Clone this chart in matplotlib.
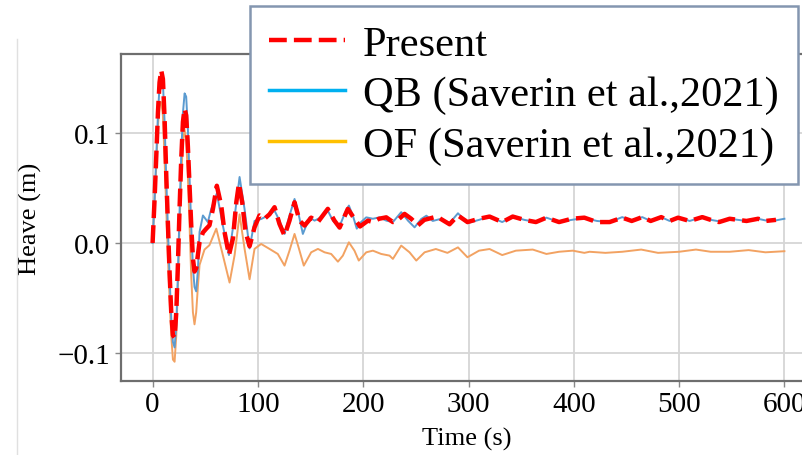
import matplotlib
matplotlib.use("Agg")
import matplotlib.pyplot as plt
from matplotlib.lines import Line2D

plt.rcParams['font.family'] = ['Liberation Serif', 'DejaVu Serif']

# Present (red dashed)
t_present = [0, 1.9, 3.5, 5.1, 6.6, 8.2, 9.8, 11.4, 13, 14.6, 16.1, 17.7, 19.3, 20.9, 22.5, 24,
             25.6, 27.2, 28.8, 30.4, 31.9, 33.5, 35.1, 36.7, 38.3, 39.8, 41.4, 43, 44.6, 47.8,
             51, 54, 57.3, 61, 65.2, 68.3, 72.5, 76.3, 79.5, 82, 85.1, 88.3, 92.1, 96.8, 101.5,
             106.3, 111, 115.8, 120.5, 125.3, 130, 134.8, 139.5, 144.3, 150.6, 157, 166.4,
             172.7, 177.6, 185.4, 191.7, 197, 204.5, 209.2, 215, 221.9, 228.2, 233, 239.3,
             245.6, 252, 258, 270, 282, 290, 299, 310, 320, 332, 342, 353,
             364, 374, 386, 398, 410, 422, 434, 446, 455, 465, 473, 483, 491, 499, 510, 522,
             530, 538, 548, 556, 564, 575, 582, 592]
h_present = [0.0, 0.040, 0.079, 0.119, 0.146, 0.157, 0.149, 0.113, 0.061, 0.016, -0.026, -0.063,
             -0.084, -0.086, -0.063, -0.021, 0.031, 0.076, 0.110, 0.122, 0.116, 0.088, 0.052,
             0.016, -0.014, -0.026, -0.023, -0.011, 0.001, 0.0095, 0.013, 0.016, 0.031, 0.052,
             0.034, 0.010, -0.011, 0.004, 0.037, 0.054, 0.037, 0.010, -0.003, 0.0142, 0.025,
             0.022, 0.026, 0.0325, 0.0173, 0.0067, 0.0203, 0.037, 0.0203, 0.0158, 0.023, 0.019,
             0.031, 0.0203, 0.014, 0.031, 0.022, 0.015, 0.0203, 0.019, 0.022, 0.0233, 0.019,
             0.021, 0.0264, 0.022, 0.016, 0.021, 0.024, 0.017, 0.025,
             0.019, 0.022, 0.024, 0.019, 0.024, 0.021, 0.019, 0.023, 0.019, 0.022, 0.023, 0.019,
             0.019, 0.023, 0.020, 0.0235, 0.020, 0.0235, 0.020, 0.023, 0.020, 0.0235, 0.021,
             0.019, 0.022, 0.021, 0.020, 0.022, 0.020, 0.021]

# QB (Saverin et al., 2021)
t_qb = [0, 1.9, 3.5, 5.1, 6.6, 8.2, 9.8, 11.4, 13, 14.6, 16.1, 17.7, 19.3, 20.9, 22.5, 24, 25.6,
        27.2, 28.8, 30.4, 31.9, 33.5, 35.1, 36.7, 38.3, 39.8, 41.4, 43, 44.6, 47.8, 52.5, 55.7,
        61, 66.7, 72.5, 77.9, 82.6, 87.3, 92.1, 96.8, 103.1, 109.5, 115.8, 120.5, 125.3, 130,
        134.8, 138.6, 142.7, 149, 153.8, 160.1, 166.4, 171.2, 177.5, 182.3, 186.4, 190.2,
        193.9, 198, 202.9, 209.2, 215.5, 221.9, 228.2, 236.1, 242.5, 248.8, 255.1, 260,
        266, 274, 282, 290, 299, 310, 320, 332, 342, 353, 364, 374,
        386, 398, 410, 422, 434, 446, 455, 465, 473, 483, 491, 499, 510, 522, 530, 538, 548,
        556, 563.6, 575, 582, 589, 600]
h_qb = [0.0, 0.040, 0.079, 0.117, 0.143, 0.153, 0.146, 0.11, 0.058, 0.012, -0.030, -0.068,
        -0.090, -0.095, -0.075, -0.030, 0.028, 0.080, 0.118, 0.136, 0.133, 0.104, 0.060, 0.015,
        -0.022, -0.040, -0.044, -0.025, 0.010, 0.025, 0.019, 0.031, 0.045, 0.016, -0.011,
        0.024, 0.060, 0.031, -0.005, 0.02, 0.0218, 0.0248, 0.0294, 0.0203, 0.0082, 0.0248,
        0.040, 0.0264, 0.0082, 0.0233, 0.0203, 0.0233, 0.0294, 0.0203, 0.015, 0.0264, 0.034,
        0.0248, 0.013, 0.019, 0.0233, 0.022, 0.0233, 0.0203, 0.019, 0.028, 0.0203, 0.0142,
        0.0218, 0.0248, 0.02, 0.022, 0.018,
        0.027, 0.018, 0.021, 0.024, 0.019, 0.024, 0.021, 0.019, 0.023, 0.019, 0.021, 0.0227,
        0.02, 0.019, 0.0235, 0.020, 0.0235, 0.020, 0.0235, 0.020, 0.0235, 0.020, 0.0235,
        0.021, 0.0197, 0.022, 0.021, 0.020, 0.022, 0.0205, 0.020, 0.022]

# OF (Saverin et al., 2021)
t_of = [0, 1.9, 3.5, 5.1, 6.6, 8.2, 9.8, 11.4, 13, 14.6, 16.1, 17.7, 19.3, 20.9, 22.5, 24, 25.6,
        27.2, 28.8, 30.4, 31.9, 33.5, 35.1, 36.7, 38.3, 39.8, 41.4, 43, 44.6, 49.3, 54, 60.5,
        66.7, 73.1, 77.9, 82.6, 87.3, 92.1, 96.8, 103.1, 111, 118.9, 125.3, 130, 134.8, 138.6,
        143.6, 150.6, 157, 163.3, 169.6, 176, 180.7, 186.4, 191.7, 195.8, 202.9, 209.2, 217.1,
        225, 228.2, 236.1, 244, 250.4, 258.3, 269, 280, 290, 299, 310, 320,
        332, 345, 361, 374, 386, 399, 410, 415,
        430, 446, 464, 480, 500, 516, 530, 548, 566, 582, 600]
h_of = [0.0, 0.037, 0.070, 0.107, 0.125, 0.128, 0.116, 0.076, 0.031, -0.014, -0.05, -0.084,
        -0.106, -0.108, -0.084, -0.039, 0.016, 0.061, 0.091, 0.103, 0.094, 0.061, 0.016,
        -0.030, -0.063, -0.074, -0.063, -0.040, -0.020, -0.006, -0.002, 0.013, -0.011,
        -0.036, -0.011, 0.026, -0.005, -0.033, -0.0054, -0.0009, -0.0054, -0.010, -0.0206,
        -0.007, 0.0082, -0.0039, -0.0206, -0.0085, -0.0054, -0.0085, -0.010, -0.017,
        -0.0115, 0.0006, -0.007, -0.016, -0.0085, -0.007, -0.010, -0.0115, -0.0145, -0.0024,
        -0.0085, -0.016, -0.0085, -0.0055, -0.009, -0.004, -0.013, -0.007, -0.0055,
        -0.011, -0.007, -0.006, -0.01, -0.008, -0.007, -0.009, -0.008,
        -0.009, -0.008, -0.006, -0.009, -0.008, -0.006, -0.008, -0.008, -0.0065, -0.0085,
        -0.0075]

x_ticks = [0, 100, 200, 300, 400, 500, 600]
y_ticks = [-0.1, 0.0, 0.1]
labels = ['Present', 'QB (Saverin et al.,2021)', 'OF (Saverin et al.,2021)']

fig = plt.figure(figsize=(8.02, 4.56), dpi=100)
ax = fig.add_axes([121 / 802, 74 / 456, 695 / 802, 327 / 456])

ax.plot(t_of, h_of, color='#f2a262', lw=1.4, zorder=2)
ax.plot(t_qb, h_qb, color='#5b9bd0', lw=1.4, zorder=3)
ax.plot(t_present, h_present, color='#ff0000', lw=3.2, dashes=(4, 1.6), zorder=4)

ax.set_xlim(-30, 630)
ax.set_ylim(-0.1255, 0.1718)
ax.set_xticks(x_ticks)
ax.set_yticks(y_ticks)
ax.tick_params(labelsize=21, length=4, width=1, color='#888888')
ax.grid(True, color='#d6d6d6', lw=1.3)
ax.set_axisbelow(True)
for s in ax.spines.values():
    s.set_color('#6e6e6e')
    s.set_linewidth(1.6)

ax.set_xlabel('Time (s)', fontsize=19)
ax.set_ylabel('Heave (m)', fontsize=19)
ax.yaxis.set_label_coords(-0.114, 0.5)
ax.xaxis.set_label_coords((467 - 121) / 695, -0.141)

handles = [Line2D([], [], color='#ff0000', lw=3.2, dashes=(4, 1.6)),
           Line2D([], [], color='#00b0f0', lw=2.5),
           Line2D([], [], color='#ffc000', lw=2.5)]
leg = fig.legend(handles, labels, loc='upper left', bbox_to_anchor=(250 / 802, 1 - 7 / 456),
                 fontsize=30.5, frameon=True, fancybox=False, edgecolor='#8496b0',
                 framealpha=1, borderaxespad=0, borderpad=0.45, handlelength=1.8,
                 handletextpad=0.42, labelspacing=0.28)
leg.get_frame().set_linewidth(1.8)

fig.add_artist(Line2D([17 / 802, 17 / 802], [0, 1 - 40 / 456], color='#e0e0e0', lw=1))

fig.savefig('out.png', dpi=100)
